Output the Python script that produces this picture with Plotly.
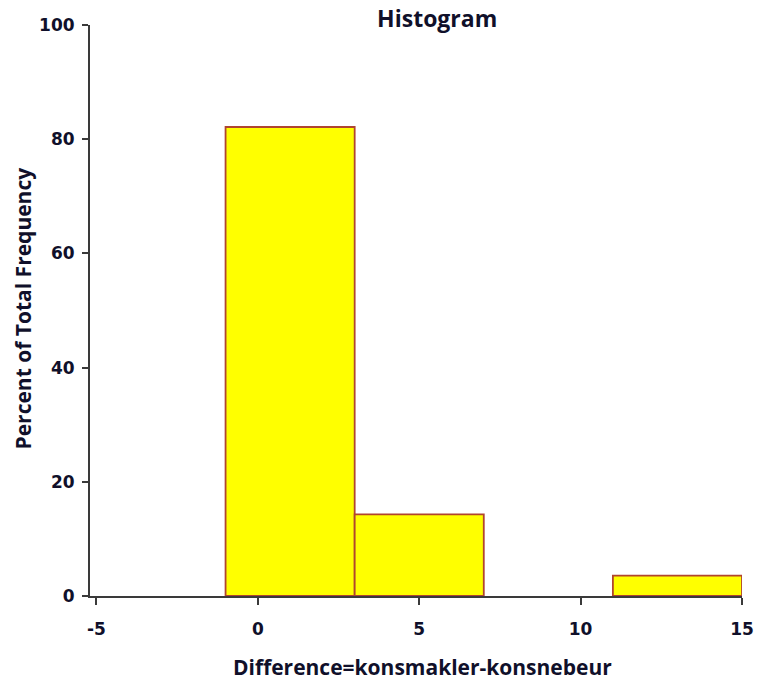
import plotly.graph_objects as go

# Histogram bins (lower/upper edges) and percent of total frequency per bin
bin_lower = [-1, 3, 11]
bin_upper = [3, 7, 15]
percent = [82.14, 14.29, 3.57]

x_ticks = [-5, 0, 5, 10, 15]
y_ticks = [0, 20, 40, 60, 80, 100]

x_title = "Difference=konsmakler-konsnebeur"
y_title = "Percent of Total Frequency"

centers = [(a + b) / 2 for a, b in zip(bin_lower, bin_upper)]
widths = [b - a for a, b in zip(bin_lower, bin_upper)]

text_color = "#10102a"
axis_color = "#3a3a3a"

fig = go.Figure(
    go.Bar(
        x=centers,
        y=percent,
        width=widths,
        marker=dict(color="#FFFF00", line=dict(color="#B0452E", width=1.8)),
        hoverinfo="skip",
    )
)

tick_font = dict(family="DejaVu Sans", size=17, color=text_color, weight="bold")
title_font = dict(family="Open Sans", size=21, color=text_color, weight="bold")

axis_common = dict(
    showgrid=False,
    zeroline=False,
    showline=True,
    linecolor=axis_color,
    linewidth=2,
    ticks="outside",
    tickwidth=2,
    tickcolor=axis_color,
    tickfont=tick_font,
    automargin=False,
)

fig.update_layout(
    width=763,
    height=682,
    margin=dict(l=90, r=21, t=25, b=86),
    paper_bgcolor="white",
    plot_bgcolor="white",
    showlegend=False,
    title=dict(
        text="Histogram",
        x=0.573,
        xanchor="center",
        y=0.972,
        yanchor="middle",
        font=dict(family="Open Sans", size=23, color=text_color, weight="bold"),
    ),
    xaxis=dict(
        range=[-5.2, 15],
        tickvals=x_ticks,
        ticktext=[str(v) for v in x_ticks],
        ticklen=7,
        ticklabelstandoff=10,
        **axis_common,
    ),
    yaxis=dict(
        range=[0, 100],
        tickvals=y_ticks,
        ticktext=[str(v) for v in y_ticks],
        ticklen=6,
        ticklabelstandoff=4,
        **axis_common,
    ),
    annotations=[
        dict(
            text=x_title, xref="paper", yref="paper", x=0.5, y=0,
            xanchor="center", yanchor="middle", xshift=6, yshift=-71,
            showarrow=False, font=title_font,
        ),
        dict(
            text=y_title, xref="paper", yref="paper", x=0, y=0.5,
            xanchor="center", yanchor="middle", xshift=-68, yshift=2,
            textangle=-90, showarrow=False, font=title_font,
        ),
    ],
)

fig.write_html("out.html")
